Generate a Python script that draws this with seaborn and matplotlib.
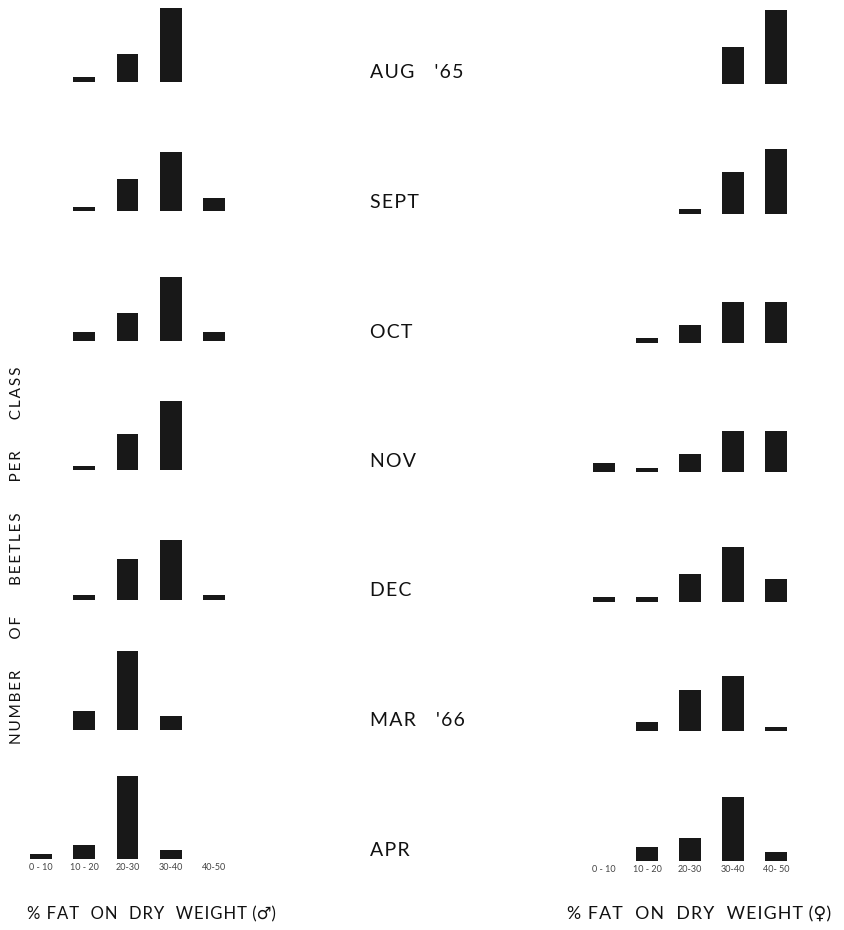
"""
Fat content of beetles per month, males (left) and females (right)
Recreated as small-multiple bar histograms with seaborn
"""

import pandas as pd
import matplotlib
matplotlib.use('Agg')
import matplotlib.pyplot as plt
import seaborn as sns

# Data
CLASSES = ['0-10', '10-20', '20-30', '30-40', '40-50']
MONTHS = ["AUG   '65", 'SEPT', 'OCT', 'NOV', 'DEC', "MAR   '66", 'APR']

MALE_AUG = [0, 1, 6, 16, 0]
MALE_SEPT = [0, 1, 7, 13, 3]
MALE_OCT = [0, 2, 6, 14, 2]
MALE_NOV = [0, 1, 8, 15, 0]
MALE_DEC = [0, 1, 9, 13, 1]
MALE_MAR = [0, 4, 17, 3, 0]
MALE_APR = [1, 3, 18, 2, 0]

FEMALE_AUG = [0, 0, 0, 8, 16]
FEMALE_SEPT = [0, 0, 1, 9, 14]
FEMALE_OCT = [0, 1, 4, 9, 9]
FEMALE_NOV = [2, 1, 4, 9, 9]
FEMALE_DEC = [1, 1, 6, 12, 5]
FEMALE_MAR = [0, 2, 9, 12, 1]
FEMALE_APR = [0, 3, 5, 14, 2]

MALE_TICKS = ['0 - 10', '10 - 20', '20-30', '30-40', '40-50']
FEMALE_TICKS = ['0 - 10', '10 - 20', '20-30', '30-40', '40- 50']

male_rows = [MALE_AUG, MALE_SEPT, MALE_OCT, MALE_NOV, MALE_DEC, MALE_MAR, MALE_APR]
female_rows = [FEMALE_AUG, FEMALE_SEPT, FEMALE_OCT, FEMALE_NOV, FEMALE_DEC, FEMALE_MAR, FEMALE_APR]

FONTS = ['Lato', 'DejaVu Sans']


def build_frame():
    """Long table: month, sex, class, count"""
    records = []
    for month, m, f in zip(MONTHS, male_rows, female_rows):
        for cls, mv, fv in zip(CLASSES, m, f):
            records.append({'month': month, 'sex': 'M', 'cls': cls, 'count': mv})
            records.append({'month': month, 'sex': 'F', 'cls': cls, 'count': fv})
    return pd.DataFrame(records)


def track(s, sep='\u200a'):
    """Loose letter spacing like the old lettering stencils"""
    return sep.join(s)


df = build_frame()

sns.set_style('white')
plt.rcParams['font.family'] = FONTS

W, H = 844, 930
fig = plt.figure(figsize=(W / 100, H / 100), dpi=100)

BAR_COLOR = '#181818'
UNIT_PX = 4.6
YMAX = 20
ROW_PX = 129.5

# panel geometry in pixels: (left, width, first baseline)
panels = {'M': (19, 217, 82), 'F': (582.5, 215, 84)}

for i, month in enumerate(MONTHS):
    for sex, (left, width, base0) in panels.items():
        base = base0 + i * ROW_PX
        ax_h = YMAX * UNIT_PX
        ax = fig.add_axes([left / W, 1 - base / H, width / W, ax_h / H])
        sub = df[(df['month'] == month) & (df['sex'] == sex)]
        sns.barplot(data=sub, x='cls', y='count', order=CLASSES, color=BAR_COLOR,
                    width=0.5, saturation=1, edgecolor='none', ax=ax)
        ax.set_xlim(-0.5, 4.5)
        ax.set_ylim(0, YMAX)
        ax.set_xlabel('')
        ax.set_ylabel('')
        ax.set_yticks([])
        sns.despine(ax=ax, left=True, bottom=True)
        if i == len(MONTHS) - 1:
            ticks = MALE_TICKS if sex == 'M' else FEMALE_TICKS
            ax.set_xticks(range(len(CLASSES)))
            ax.set_xticklabels(ticks, fontsize=6.5, color='#444444')
            ax.tick_params(axis='x', length=0, pad=3)
        else:
            ax.set_xticks([])
    # month label in the middle column
    fig.text(370 / W, 1 - (82 + i * ROW_PX - 9) / H, track(month), fontsize=14,
             ha='left', va='center', color='#111111', family=FONTS)

ylab = '        '.join(track(w, '\u2009') for w in ['NUMBER', 'OF', 'BEETLES', 'PER', 'CLASS'])
fig.text(17 / W, 1 - 555 / H, ylab, rotation=90, fontsize=11,
         ha='center', va='center', color='#111111', family=FONTS)

xlab = '% FAT  ON  DRY  WEIGHT '
fig.text(151 / W, 1 - 914 / H, track(xlab) + '(\u2642)', fontsize=12,
         ha='center', va='center', color='#111111', family=FONTS)
fig.text(699 / W, 1 - 914 / H, track(xlab) + '(\u2640)', fontsize=12.8,
         ha='center', va='center', color='#111111', family=FONTS)

fig.savefig('out.png', dpi=100)
plt.close(fig)
